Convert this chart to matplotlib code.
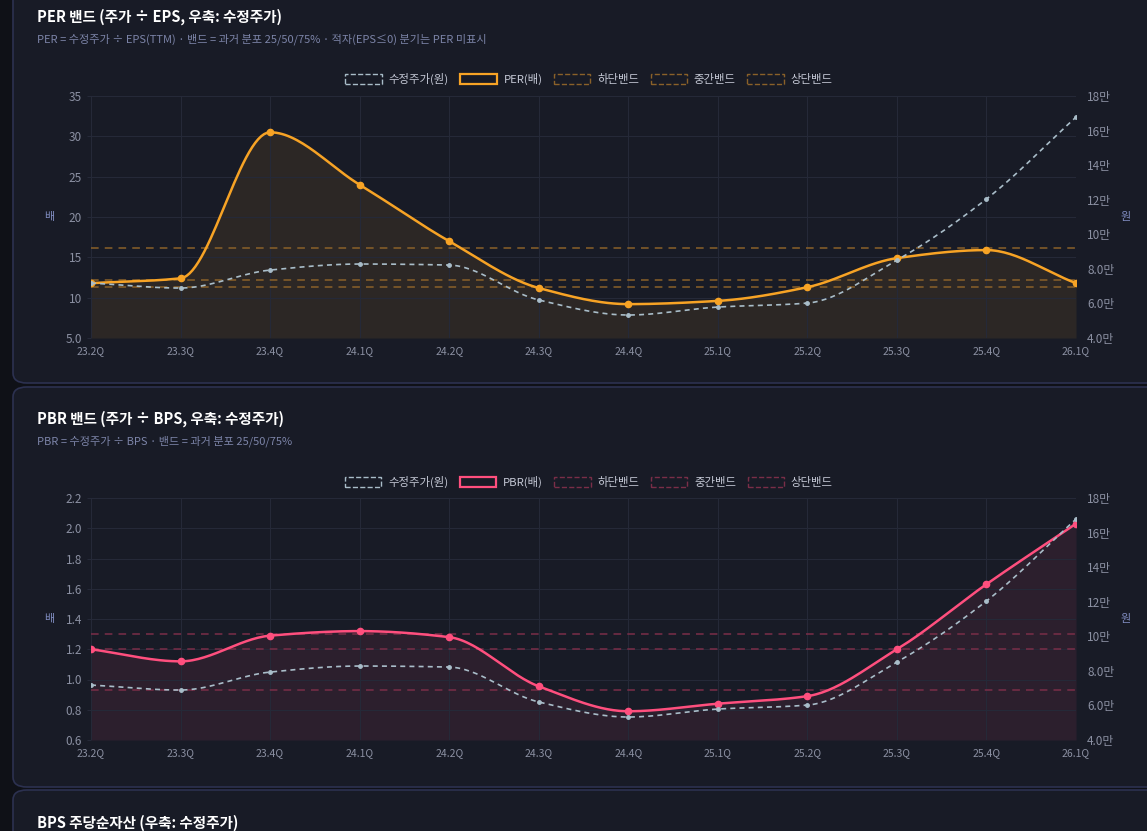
import numpy as np
import matplotlib.pyplot as plt
from matplotlib.patches import FancyBboxPatch, Patch
from matplotlib.ticker import FuncFormatter

plt.rcParams['font.family'] = ['Noto Sans CJK KR', 'DejaVu Sans']

quarters = ['23.2Q', '23.3Q', '23.4Q', '24.1Q', '24.2Q', '24.3Q',
            '24.4Q', '25.1Q', '25.2Q', '25.3Q', '25.4Q', '26.1Q']
price = [71800, 68900, 79300, 82800, 82200, 62000,
         53300, 57900, 60200, 85100, 120400, 167800]
per = [11.8, 12.4, 30.5, 24.0, 17.0, 11.2, 9.2, 9.6, 11.3, 14.9, 15.9, 11.8]
per_bands = [11.3, 12.2, 16.1]   # 25 / 50 / 75%
pbr = [1.20, 1.12, 1.29, 1.32, 1.28, 0.955, 0.79, 0.84, 0.89, 1.20, 1.63, 2.03]
pbr_bands = [0.93, 1.20, 1.30]

BG = '#0f1117'
CARD = '#181b26'
EDGE = '#2c3150'
GRID = '#252938'
TICK = '#8b90a2'
PRICE_C = '#a9bdc9'


def smooth(y, n=30):
    # monotone cubic (Fritsch-Carlson) through the points, for drawing only
    y = np.asarray(y, float)
    x = np.arange(len(y), dtype=float)
    d = np.diff(y)
    m = np.zeros(len(y))
    m[0], m[-1] = d[0], d[-1]
    for i in range(1, len(y) - 1):
        if d[i - 1] * d[i] > 0:
            m[i] = 2 / (1 / d[i - 1] + 1 / d[i])
    xs, ys = [], []
    for i in range(len(y) - 1):
        t = np.linspace(0, 1, n, endpoint=False)
        h00 = 2 * t**3 - 3 * t**2 + 1
        h10 = t**3 - 2 * t**2 + t
        h01 = -2 * t**3 + 3 * t**2
        h11 = t**3 - t**2
        xs.append(x[i] + t)
        ys.append(h00 * y[i] + h10 * m[i] + h01 * y[i + 1] + h11 * m[i + 1])
    xs.append([x[-1]])
    ys.append([y[-1]])
    return np.concatenate(xs), np.concatenate(ys)


def man(v, pos):
    v = v / 1e4
    return f'{v:.1f}만' if v < 10 else f'{v:.0f}만'


fig = plt.figure(figsize=(11.47, 8.31), dpi=100, facecolor=BG)

# cards (pixel coords -> fig fraction)
W, H = 1147, 831
for top, bot in [(-20, 383), (387, 787), (790, 860)]:
    fig.patches.append(FancyBboxPatch(
        (13 / W, 1 - bot / H), 1.2, (bot - top) / H,
        boxstyle='round,pad=0,rounding_size=0.012', transform=fig.transFigure,
        facecolor=CARD, edgecolor=EDGE, linewidth=1.2, zorder=-5))


def panel(top_px, ratio, ratio_name, color, band_color, bands, ylim, yticks,
          yfmt, title, subtitle, legend_y):
    ax = fig.add_axes([91 / W, 1 - (top_px + 242) / H, 985 / W, 242 / H])
    ax.set_facecolor('none')
    x = np.arange(len(quarters))

    for b in bands:
        ax.axhline(b, color=band_color, lw=1.1, ls=(0, (5, 4)), zorder=2)
    xs, ys = smooth(ratio)
    ax.fill_between(xs, ys, ylim[0], color=color, alpha=0.09, lw=0, zorder=1)
    ax.plot(xs, ys, color=color, lw=1.8, zorder=4)
    ax.plot(x, ratio, 'o', color=color, ms=4.5, zorder=5)

    ax.set_xlim(0, len(quarters) - 1)
    ax.set_ylim(*ylim)
    ax.set_yticks(yticks)
    ax.yaxis.set_major_formatter(FuncFormatter(yfmt))
    ax.set_xticks(x)
    ax.set_xticklabels(quarters)
    ax.grid(True, color=GRID, lw=0.8)
    for s in ax.spines.values():
        s.set_visible(False)
    ax.tick_params(axis='x', length=0, pad=6, labelsize=7.5, colors=TICK)
    ax.tick_params(axis='y', length=3, color=GRID, labelsize=8.5, colors=TICK)
    ax.set_ylabel('배', color='#7f8bbf', fontsize=8, rotation=0,
                  labelpad=12, va='center')

    ax2 = ax.twinx()
    pxs, pys = smooth(price)
    ax2.plot(pxs, pys, color=PRICE_C, lw=1.2, ls=(0, (3, 2.5)), zorder=3)
    ax2.plot(x, price, 'o', color=PRICE_C, ms=2.5, zorder=3)
    ax2.set_ylim(40000, 180000)
    ax2.set_yticks(np.arange(40000, 180001, 20000))
    ax2.yaxis.set_major_formatter(FuncFormatter(man))
    for s in ax2.spines.values():
        s.set_visible(False)
    ax2.tick_params(axis='y', length=0, pad=8, labelsize=8.5, colors=TICK)
    ax2.set_ylabel('원', color='#7f8bbf', fontsize=8, rotation=0,
                   labelpad=8, va='center')

    fig.text(37 / W, 1 - (top_px - 79) / H, title, color='white',
             fontsize=10.5, fontweight='bold', va='center')
    fig.text(37 / W, 1 - (top_px - 57) / H, subtitle, color='#7c84a8',
             fontsize=8, va='center')

    handles = [
        Patch(facecolor=CARD, edgecolor=PRICE_C, ls='--', lw=1),
        Patch(facecolor=CARD, edgecolor=color, lw=1.6),
        Patch(facecolor=CARD, edgecolor=band_color, ls='--', lw=1),
        Patch(facecolor=CARD, edgecolor=band_color, ls='--', lw=1),
        Patch(facecolor=CARD, edgecolor=band_color, ls='--', lw=1),
    ]
    labels = ['수정주가(원)', ratio_name, '하단밴드', '중간밴드', '상단밴드']
    fig.legend(handles, labels, loc='center', ncol=5,
               bbox_to_anchor=(589 / W, 1 - legend_y / H), frameon=False,
               fontsize=8.2, labelcolor='#c3c7d4', handlelength=3.2,
               handleheight=1.0, columnspacing=1.0, handletextpad=0.6)
    return ax


panel(96, per, 'PER(배)', '#f7a325', '#8a6129', per_bands, (5, 35),
      [5, 10, 15, 20, 25, 30, 35],
      lambda v, p: '5.0' if v == 5 else f'{v:.0f}',
      'PER 밴드 (주가 ÷ EPS, 우축: 수정주가)',
      'PER = 수정주가 ÷ EPS(TTM) · 밴드 = 과거 분포 25/50/75% · 적자(EPS≤0) 분기는 PER 미표시',
      79)

panel(498, pbr, 'PBR(배)', '#ff4f7e', '#7a2e48', pbr_bands, (0.6, 2.2),
      np.arange(0.6, 2.21, 0.2), lambda v, p: f'{v:.1f}',
      'PBR 밴드 (주가 ÷ BPS, 우축: 수정주가)',
      'PBR = 수정주가 ÷ BPS · 밴드 = 과거 분포 25/50/75%',
      482)

fig.text(37 / W, 1 - 823 / H, 'BPS 주당순자산 (우축: 수정주가)', color='white',
         fontsize=10.5, fontweight='bold', va='center')

fig.savefig('out.png', dpi=100, facecolor=BG)
